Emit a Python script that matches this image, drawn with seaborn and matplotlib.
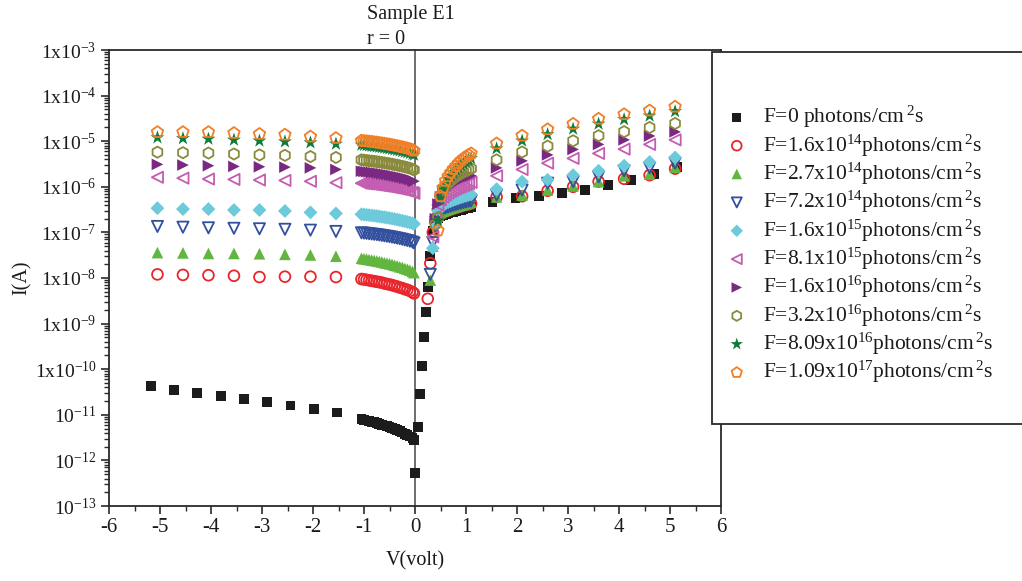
import numpy as np
import pandas as pd
import matplotlib
matplotlib.use("Agg")
import matplotlib.pyplot as plt
import seaborn as sns
from matplotlib.patches import Rectangle
from matplotlib.ticker import FixedLocator, FixedFormatter, LogLocator, NullFormatter, MultipleLocator

nan = np.nan

# ---------------- data ----------------
# voltage grids (V)
v_sparse_neg = [-5.05, -4.55, -4.05, -3.55, -3.05, -2.55, -2.05, -1.55]
v_dense_neg = [-1.05, -1.0, -0.95, -0.9, -0.85, -0.8, -0.75, -0.7, -0.65, -0.6, -0.55,
               -0.5, -0.45, -0.4, -0.35, -0.3, -0.25, -0.2, -0.15, -0.1, -0.05, -0.02]
v_dense_pos = [0.25, 0.3, 0.35, 0.4, 0.45, 0.5, 0.55, 0.6, 0.65, 0.7, 0.75, 0.8, 0.85,
               0.9, 0.95, 1.0, 1.05, 1.1]
v_sparse_pos = [1.6, 2.1, 2.6, 3.1, 3.6, 4.1, 4.6, 5.1]

v_dark_sparse_neg = [-5.18, -4.73, -4.27, -3.81, -3.35, -2.90, -2.44, -1.98, -1.53]
v_dark_pos = [0.006, 0.053, 0.092, 0.137, 0.176, 0.216, 0.255, 0.3, 0.35, 0.4, 0.45, 0.5,
              0.55, 0.6, 0.65, 0.7, 0.75, 0.8, 0.85, 0.9, 0.95, 1.0, 1.05, 1.1]
v_dark_sparse_pos = [1.52, 1.97, 2.43, 2.88, 3.34, 3.79, 4.24, 4.69, 5.13]

# dark current F = 0
i0_sparse_neg = [4.2e-11, 3.5e-11, 3.0e-11, 2.6e-11, 2.2e-11, 1.9e-11, 1.6e-11, 1.35e-11, 1.12e-11]
i0_dense_neg = [8.0e-12, 7.75e-12, 7.51e-12, 7.28e-12, 7.06e-12, 6.83e-12, 6.62e-12, 6.35e-12,
                6.09e-12, 5.84e-12, 5.60e-12, 5.37e-12, 5.10e-12, 4.83e-12, 4.58e-12, 4.35e-12,
                4.09e-12, 3.84e-12, 3.60e-12, 3.34e-12, 3.04e-12, 2.80e-12]
i0_pos = [5.4e-13, 5.4e-12, 2.9e-11, 1.17e-10, 5.0e-10, 1.8e-9, 6.4e-9, 3.0e-8, 1.1e-7, 1.8e-7,
          2.1e-7, 2.3e-7, 2.45e-7, 2.55e-7, 2.65e-7, 2.75e-7, 2.85e-7, 2.95e-7, 3.05e-7,
          3.15e-7, 3.25e-7, 3.35e-7, 3.45e-7, 3.55e-7]
i0_sparse_pos = [4.7e-7, 5.6e-7, 6.3e-7, 7.2e-7, 8.5e-7, 1.1e-6, 1.4e-6, 1.9e-6, 2.7e-6]

# F = 1.6x10^14
i1_sn = [1.2e-8, 1.17e-8, 1.15e-8, 1.12e-8, 1.05e-8, 1.07e-8, 1.07e-8, 1.05e-8]
i1_dn = [9.5e-9, 9.3e-9, 9.1e-9, 8.9e-9, 8.7e-9, 8.5e-9, 8.3e-9, 8.1e-9, 7.9e-9, 7.6e-9, 7.4e-9,
         7.2e-9, 7.0e-9, 6.7e-9, 6.5e-9, 6.2e-9, 6.0e-9, 5.7e-9, 5.5e-9, 5.2e-9, 4.9e-9, 4.6e-9]
i1_dp = [3.5e-9, 2.1e-8, 1.0e-7, 1.8e-7, 2.3e-7, 2.55e-7, 2.75e-7, 2.9e-7, 3.05e-7, 3.2e-7,
         3.35e-7, 3.5e-7, 3.6e-7, 3.75e-7, 3.9e-7, 4.0e-7, 4.15e-7, 4.3e-7]
i1_sp = [6.0e-7, 6.2e-7, 8.2e-7, 1.0e-6, 1.3e-6, 1.5e-6, 1.8e-6, 2.5e-6]

# F = 2.7x10^14
i2_sn = [3.6e-8, 3.55e-8, 3.45e-8, 3.45e-8, 3.4e-8, 3.3e-8, 3.2e-8, 3.0e-8]
i2_dn = [2.70e-8, 2.64e-8, 2.59e-8, 2.53e-8, 2.47e-8, 2.42e-8, 2.36e-8, 2.30e-8, 2.25e-8,
         2.16e-8, 2.11e-8, 2.05e-8, 1.99e-8, 1.90e-8, 1.85e-8, 1.76e-8, 1.71e-8, 1.62e-8,
         1.56e-8, 1.48e-8, 1.39e-8, 1.31e-8]
i2_dp = [nan, 9e-9, 5e-8, 1.7e-7, 2.4e-7, 2.7e-7, 2.9e-7, 3.05e-7, 3.2e-7, 3.35e-7, 3.5e-7,
         3.65e-7, 3.8e-7, 3.95e-7, 4.1e-7, 4.25e-7, 4.4e-7, 4.6e-7]
i2_sp = [6.0e-7, 6.6e-7, 8.5e-7, 1.05e-6, 1.3e-6, 1.74e-6, 1.9e-6, 2.7e-6]

# F = 7.2x10^14
i3_sn = [1.35e-7, 1.3e-7, 1.26e-7, 1.23e-7, 1.2e-7, 1.17e-7, 1.12e-7, 1.05e-7]
i3_dn = [9.8e-8, 9.65e-8, 9.5e-8, 9.36e-8, 9.22e-8, 9.07e-8, 8.94e-8, 8.76e-8, 8.58e-8,
         8.41e-8, 8.23e-8, 8.07e-8, 7.87e-8, 7.66e-8, 7.48e-8, 7.28e-8, 7.07e-8, 6.85e-8,
         6.64e-8, 6.41e-8, 6.13e-8, 5.88e-8]
i3_dp = [nan, 1.2e-8, 6e-8, 1.3e-7, 2.5e-7, 3.0e-7, 3.25e-7, 3.45e-7, 3.6e-7, 3.75e-7, 3.9e-7,
         4.05e-7, 4.2e-7, 4.35e-7, 4.5e-7, 4.65e-7, 4.8e-7, 4.9e-7]
i3_sp = [6.6e-7, 8.5e-7, 1.2e-6, 1.3e-6, 1.66e-6, 2.25e-6, 2.6e-6, 3.3e-6]

# F = 1.6x10^15
i4_sn = [3.4e-7, 3.25e-7, 3.25e-7, 3.1e-7, 3.1e-7, 2.95e-7, 2.75e-7, 2.6e-7]
i4_dn = [2.50e-7, 2.46e-7, 2.43e-7, 2.39e-7, 2.35e-7, 2.32e-7, 2.28e-7, 2.24e-7, 2.19e-7,
         2.15e-7, 2.10e-7, 2.06e-7, 2.01e-7, 1.96e-7, 1.91e-7, 1.86e-7, 1.80e-7, 1.75e-7,
         1.70e-7, 1.64e-7, 1.58e-7, 1.53e-7]
i4_dp = [nan, nan, 4.5e-8, 1.6e-7, 3.0e-7, 3.6e-7, 4.0e-7, 4.3e-7, 4.6e-7, 4.85e-7, 5.1e-7,
         5.35e-7, 5.6e-7, 5.85e-7, 6.1e-7, 6.35e-7, 6.6e-7, 6.8e-7]
i4_sp = [8.9e-7, 1.3e-6, 1.42e-6, 1.8e-6, 2.25e-6, 2.9e-6, 3.5e-6, 4.4e-6]

# F = 8.1x10^15
i5_sn = [1.62e-6, 1.55e-6, 1.48e-6, 1.45e-6, 1.41e-6, 1.38e-6, 1.32e-6, 1.23e-6]
i5_dn = [1.20e-6, 1.18e-6, 1.16e-6, 1.15e-6, 1.13e-6, 1.11e-6, 1.09e-6, 1.07e-6, 1.05e-6,
         1.03e-6, 1.01e-6, 9.9e-7, 9.6e-7, 9.4e-7, 9.2e-7, 8.9e-7, 8.7e-7, 8.4e-7, 8.1e-7,
         7.8e-7, 7.5e-7, 7.2e-7]
i5_dp = [nan, nan, 8e-8, 2.2e-7, 4.0e-7, 5.2e-7, 6.0e-7, 6.7e-7, 7.3e-7, 7.9e-7, 8.5e-7,
         9.0e-7, 9.6e-7, 1.01e-6, 1.07e-6, 1.12e-6, 1.18e-6, 1.25e-6]
i5_sp = [1.74e-6, 2.4e-6, 3.3e-6, 4.2e-6, 5.4e-6, 6.7e-6, 8.5e-6, 1.07e-5]

# F = 1.6x10^16
i6_sn = [3.1e-6, 3.0e-6, 2.9e-6, 2.8e-6, 2.75e-6, 2.7e-6, 2.6e-6, 2.4e-6]
i6_dn = [2.20e-6, 2.17e-6, 2.13e-6, 2.10e-6, 2.07e-6, 2.04e-6, 2.01e-6, 1.97e-6, 1.93e-6,
         1.89e-6, 1.85e-6, 1.81e-6, 1.77e-6, 1.72e-6, 1.68e-6, 1.63e-6, 1.59e-6, 1.54e-6,
         1.49e-6, 1.44e-6, 1.38e-6, 1.32e-6]
i6_dp = [nan, nan, nan, 2.0e-7, 4.2e-7, 6.0e-7, 7.3e-7, 8.5e-7, 9.6e-7, 1.06e-6, 1.16e-6,
         1.26e-6, 1.35e-6, 1.44e-6, 1.53e-6, 1.6e-6, 1.68e-6, 1.75e-6]
i6_sp = [2.6e-6, 3.7e-6, 5.0e-6, 6.6e-6, 8.5e-6, 1.07e-5, 1.3e-5, 1.6e-5]

# F = 3.2x10^16
i7_sn = [5.75e-6, 5.6e-6, 5.5e-6, 5.25e-6, 5.0e-6, 4.9e-6, 4.6e-6, 4.4e-6]
i7_dn = [3.90e-6, 3.84e-6, 3.78e-6, 3.72e-6, 3.67e-6, 3.61e-6, 3.56e-6, 3.49e-6, 3.42e-6,
         3.35e-6, 3.28e-6, 3.21e-6, 3.13e-6, 3.05e-6, 2.98e-6, 2.90e-6, 2.81e-6, 2.73e-6,
         2.64e-6, 2.55e-6, 2.44e-6, 2.34e-6]
i7_dp = [nan, nan, nan, 1.5e-7, 2.1e-7, 6.5e-7, 8.5e-7, 1.03e-6, 1.2e-6, 1.36e-6, 1.52e-6,
         1.67e-6, 1.82e-6, 1.97e-6, 2.1e-6, 2.24e-6, 2.37e-6, 2.5e-6]
i7_sp = [3.9e-6, 5.8e-6, 7.8e-6, 1.02e-5, 1.32e-5, 1.62e-5, 2.0e-5, 2.45e-5]

# F = 8.09x10^16
i8_sn = [1.2e-5, 1.15e-5, 1.12e-5, 1.07e-5, 1.02e-5, 9.8e-6, 9.3e-6, 8.7e-6]
i8_dn = [8.30e-6, 8.18e-6, 8.05e-6, 7.93e-6, 7.81e-6, 7.69e-6, 7.57e-6, 7.42e-6, 7.27e-6,
         7.12e-6, 6.97e-6, 6.83e-6, 6.66e-6, 6.49e-6, 6.33e-6, 6.17e-6, 5.98e-6, 5.80e-6,
         5.63e-6, 5.43e-6, 5.19e-6, 4.98e-6]
i8_dp = [nan, nan, nan, nan, 1.8e-7, 5.5e-7, 8.5e-7, 1.15e-6, 1.45e-6, 1.75e-6, 2.05e-6,
         2.35e-6, 2.65e-6, 2.95e-6, 3.25e-6, 3.55e-6, 3.85e-6, 4.2e-6]
i8_sp = [6.9e-6, 1.02e-5, 1.41e-5, 1.86e-5, 2.4e-5, 3.0e-5, 3.6e-5, 4.5e-5]

# F = 1.09x10^17
i9_sn = [1.58e-5, 1.58e-5, 1.58e-5, 1.51e-5, 1.44e-5, 1.39e-5, 1.26e-5, 1.17e-5]
i9_dn = [1.03e-5, 1.01e-5, 9.99e-6, 9.84e-6, 9.69e-6, 9.54e-6, 9.39e-6, 9.21e-6, 9.02e-6,
         8.84e-6, 8.65e-6, 8.48e-6, 8.27e-6, 8.05e-6, 7.86e-6, 7.65e-6, 7.43e-6, 7.20e-6,
         6.98e-6, 6.74e-6, 6.44e-6, 6.18e-6]
i9_dp = [nan, nan, nan, nan, 1.1e-7, 6.2e-7, 9.5e-7, 1.35e-6, 1.7e-6, 2.05e-6, 2.45e-6,
         2.85e-6, 3.3e-6, 3.75e-6, 4.2e-6, 4.6e-6, 5.0e-6, 5.4e-6]
i9_sp = [8.9e-6, 1.32e-5, 1.82e-5, 2.4e-5, 3.1e-5, 3.9e-5, 4.7e-5, 5.7e-5]

labels = [
    r"F=0 photons/cm$^{\,2}$s",
    r"F=1.6x10$^{14}$photons/cm$^{\,2}$s",
    r"F=2.7x10$^{14}$photons/cm$^{\,2}$s",
    r"F=7.2x10$^{14}$photons/cm$^{\,2}$s",
    r"F=1.6x10$^{15}$photons/cm$^{\,2}$s",
    r"F=8.1x10$^{15}$photons/cm$^{\,2}$s",
    r"F=1.6x10$^{16}$photons/cm$^{\,2}$s",
    r"F=3.2x10$^{16}$photons/cm$^{\,2}$s",
    r"F=8.09x10$^{16}$photons/cm$^{\,2}$s",
    r"F=1.09x10$^{17}$photons/cm$^{\,2}$s",
]
x_ticks = [-6, -5, -4, -3, -2, -1, 0, 1, 2, 3, 4, 5, 6]
y_ticks = [1e-3, 1e-4, 1e-5, 1e-6, 1e-7, 1e-8, 1e-9, 1e-10, 1e-11, 1e-12, 1e-13]
y_ticklabels = [r"1x10$^{-3}$", r"1x10$^{-4}$", r"1x10$^{-5}$", r"1x10$^{-6}$",
                r"1x10$^{-7}$", r"1x10$^{-8}$", r"1x10$^{-9}$", r"1x10$^{-10}$",
                r"10$^{-11}$", r"10$^{-12}$", r"10$^{-13}$"]

# ---------------- assemble ----------------
series_I = [
    (i0_sparse_neg, i0_dense_neg, i0_pos, i0_sparse_pos),
    (i1_sn, i1_dn, i1_dp, i1_sp), (i2_sn, i2_dn, i2_dp, i2_sp),
    (i3_sn, i3_dn, i3_dp, i3_sp), (i4_sn, i4_dn, i4_dp, i4_sp),
    (i5_sn, i5_dn, i5_dp, i5_sp), (i6_sn, i6_dn, i6_dp, i6_sp),
    (i7_sn, i7_dn, i7_dp, i7_sp), (i8_sn, i8_dn, i8_dp, i8_sp),
    (i9_sn, i9_dn, i9_dp, i9_sp),
]
frames = []
for k, parts in enumerate(series_I):
    if k == 0:
        vv = v_dark_sparse_neg + v_dense_neg + v_dark_pos + v_dark_sparse_pos
    else:
        vv = v_sparse_neg + v_dense_neg + v_dense_pos + v_sparse_pos
    ii = parts[0] + parts[1] + parts[2] + parts[3]
    frames.append(pd.DataFrame({"V": vv, "I": ii, "series": labels[k]}))
df = pd.concat(frames, ignore_index=True).dropna()

styles = [
    dict(marker="s", color="#1c1c1c", filled=True, s=50),
    dict(marker="o", color="#e8262b", filled=False, s=60),
    dict(marker="^", color="#62b53f", filled=True, s=70),
    dict(marker="v", color="#33509f", filled=False, s=65),
    dict(marker="D", color="#6ccadb", filled=True, s=50),
    dict(marker="<", color="#c45cb1", filled=False, s=65),
    dict(marker=">", color="#7a2882", filled=True, s=70),
    dict(marker="h", color="#8a8a3c", filled=False, s=65),
    dict(marker="*", color="#0f7a3d", filled=True, s=110),
    dict(marker="p", color="#f07f26", filled=False, s=75),
]

# ---------------- figure ----------------
sns.set_theme(style="ticks")
plt.rcParams["font.family"] = ["Liberation Serif", "DejaVu Serif"]
plt.rcParams["mathtext.default"] = "regular"
plt.rcParams["axes.unicode_minus"] = False

fig = plt.figure(figsize=(10.22, 5.81), dpi=100)
ax = fig.add_axes([109 / 1022, 1 - 506 / 581, (721 - 109) / 1022, (506 - 50) / 581])

for lab, st in zip(labels, styles):
    d = df[df["series"] == lab]
    if st["filled"]:
        sns.scatterplot(data=d, x="V", y="I", marker=st["marker"], s=st["s"],
                        color=st["color"], edgecolor="none", linewidth=0,
                        label=lab, ax=ax, zorder=3)
    else:
        sns.scatterplot(data=d, x="V", y="I", marker=st["marker"], s=st["s"],
                        color=st["color"], facecolors="none", edgecolor=st["color"],
                        linewidth=1.3, label=lab, ax=ax, zorder=3)

ax.axvline(0, color="#555555", lw=1.2, zorder=1)

ax.set_yscale("log")
ax.set_xlim(-6, 6)
ax.set_ylim(1e-13, 1e-3)
ax.xaxis.set_major_locator(FixedLocator(x_ticks))
ax.xaxis.set_minor_locator(MultipleLocator(0.5))
ax.yaxis.set_major_locator(FixedLocator(y_ticks))
ax.yaxis.set_major_formatter(FixedFormatter(y_ticklabels))
ax.yaxis.set_minor_locator(LogLocator(base=10, subs=np.arange(2, 10), numticks=100))
ax.yaxis.set_minor_formatter(NullFormatter())

for sp in ax.spines.values():
    sp.set_linewidth(1.3)
    sp.set_color("#2a2a2a")
ax.tick_params(axis="both", which="major", direction="out", length=6, width=1.2,
               color="#2a2a2a", labelcolor="#1a1a1a", pad=3)
ax.tick_params(axis="x", which="major", labelsize=15)
ax.tick_params(axis="y", which="major", labelsize=14)
ax.tick_params(axis="both", which="minor", direction="out", length=3.5, width=1.0,
               color="#2a2a2a")
ax.set_xlabel("V(volt)", fontsize=14.5, color="#1a1a1a", labelpad=10)
ax.set_ylabel("I(A)", fontsize=14.5, color="#1a1a1a", labelpad=2)

# title text
fig.text(367 / 1022, 1 - 14 / 581, "Sample E1", fontsize=14.5, ha="left", va="center",
         color="#1a1a1a")
fig.text(367 / 1022, 1 - 39 / 581, "r = 0", fontsize=14.5, ha="left", va="center",
         color="#1a1a1a")

# legend box and legend
box = Rectangle((712 / 1022, 1 - 424 / 581), (1040 - 712) / 1022, (424 - 52) / 581,
                transform=fig.transFigure, facecolor="white", edgecolor="#2a2a2a",
                linewidth=1.3, zorder=5)
fig.patches.append(box)

handles, leg_labels = ax.get_legend_handles_labels()
if ax.legend_ is not None:
    ax.legend_.remove()
leg = fig.legend(handles, leg_labels, loc="upper left",
                 bbox_to_anchor=(726 / 1022, 1 - 104 / 581), bbox_transform=fig.transFigure,
                 frameon=False, fontsize=15.5, handlelength=1.0, handletextpad=0.72,
                 labelspacing=0.1, borderpad=0, borderaxespad=0, scatterpoints=1,
                 markerscale=0.9)
leg.set_zorder(6)
for t in leg.get_texts():
    t.set_color("#1a1a1a")

fig.savefig("out.png", dpi=100)
